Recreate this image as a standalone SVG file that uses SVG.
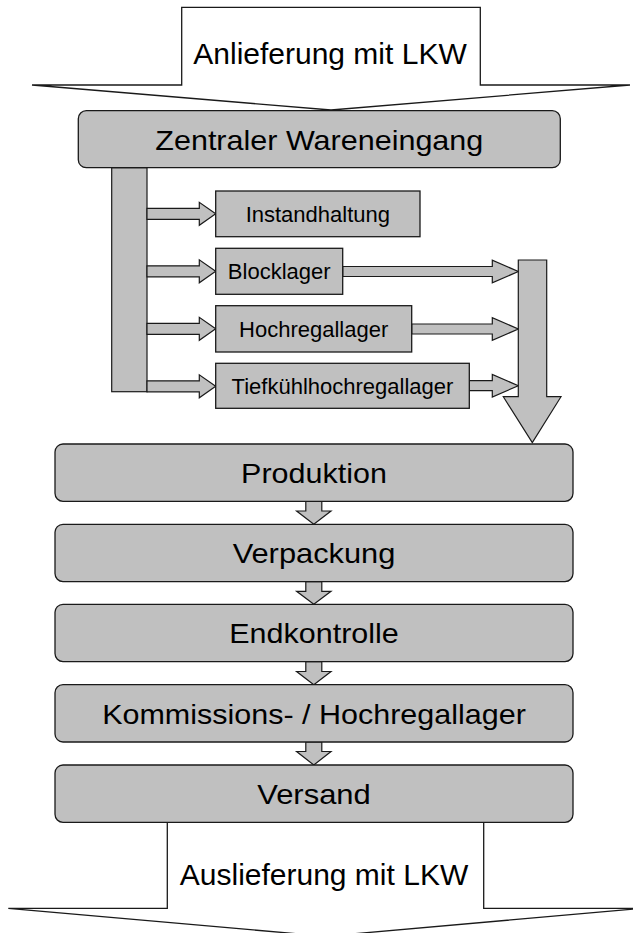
<svg xmlns="http://www.w3.org/2000/svg" width="633" height="933" viewBox="0 0 633 933">
<style>
.blk{fill:#ffffff;stroke:#1a1a1a;stroke-width:1.3;stroke-linejoin:miter}
.box{fill:#c0c0c0;stroke:#1a1a1a;stroke-width:1.3}
.arr{fill:#c0c0c0;stroke:#1a1a1a;stroke-width:1.2;stroke-linejoin:miter}
text{font-family:"Liberation Sans",Arial,sans-serif;fill:#000;text-anchor:middle}
.big{font-size:28px}
.lkw{font-size:30px}
.sm{font-size:22px}
</style>
<rect width="633" height="933" fill="#ffffff"/>
<g id="anlieferung">
<polygon class="blk" points="181.7,7.3 480.3,7.3 480.3,85 630,85 331,110 32,85 181.7,85"/>
<text class="lkw" x="330" y="64.3">Anlieferung mit LKW</text>
</g>
<g id="auslieferung">
<polygon class="blk" points="167.3,822.3 483.7,822.3 483.7,908.3 642.7,908.3 325.5,936.3 8.3,908.3 167.3,908.3"/>
<text class="lkw" x="324" y="885">Auslieferung mit LKW</text>
</g>
<g id="connectors">
<rect class="arr" x="111.7" y="167.7" width="35.3" height="224"/>
<polygon class="arr" points="147,208.3 199.3,208.3 199.3,202.3 215.7,213.8 199.3,225.3 199.3,219.3 147,219.3"/>
<polygon class="arr" points="147,265.8 199.3,265.8 199.3,259.8 215.7,271.3 199.3,282.8 199.3,276.8 147,276.8"/>
<polygon class="arr" points="147,323.3 199.3,323.3 199.3,317.3 215.7,328.8 199.3,340.3 199.3,334.3 147,334.3"/>
<polygon class="arr" points="147,380.8 199.3,380.8 199.3,374.8 215.7,386.3 199.3,397.8 199.3,391.8 147,391.8"/>
<polygon class="arr" points="342.7,266.5 492.3,266.5 492.3,260.2 518.3,271.5 492.3,282.8 492.3,276.5 342.7,276.5"/>
<polygon class="arr" points="411.7,324 492.3,324 492.3,317.7 518.3,329 492.3,340.3 492.3,334 411.7,334"/>
<polygon class="arr" points="469.3,380.7 492.3,380.7 492.3,374.4 518.3,385.7 492.3,397 492.3,390.7 469.3,390.7"/>
<polygon class="arr" points="518.3,260 546.7,260 546.7,396.7 561,396.7 532.3,442.5 503.3,396.7 518.3,396.7"/>
<polygon class="arr" points="305.8,501.3 321.8,501.3 321.8,511 331,511 313.8,524.3 296.6,511 305.8,511"/>
<polygon class="arr" points="305.8,581.6 321.8,581.6 321.8,591.3 331,591.3 313.8,604.3 296.6,591.3 305.8,591.3"/>
<polygon class="arr" points="305.8,661.6 321.8,661.6 321.8,671.5 331,671.5 313.8,684.7 296.6,671.5 305.8,671.5"/>
<polygon class="arr" points="305.8,742 321.8,742 321.8,751.5 331,751.5 313.8,765 296.6,751.5 305.8,751.5"/>
</g>
<g id="wareneingang">
<rect class="box" x="78.3" y="110.7" width="482" height="57" rx="8"/>
<text class="big" x="319.3" y="150" textLength="328" lengthAdjust="spacingAndGlyphs">Zentraler Wareneingang</text>
</g>
<g id="instandhaltung">
<rect class="box" x="215.7" y="191" width="204.3" height="45.7"/>
<text class="sm" x="317.8" y="221.7">Instandhaltung</text>
</g>
<g id="blocklager">
<rect class="box" x="215.7" y="248.3" width="127" height="46"/>
<text class="sm" x="279.2" y="279.2">Blocklager</text>
</g>
<g id="hochregallager">
<rect class="box" x="215.7" y="305.7" width="196" height="46.3"/>
<text class="sm" x="313.7" y="336.7">Hochregallager</text>
</g>
<g id="tiefkuehl">
<rect class="box" x="215.7" y="363.3" width="253.6" height="45"/>
<text class="sm" x="342.5" y="394.2">Tiefkühlhochregallager</text>
</g>
<g id="produktion">
<rect class="box" x="55" y="444" width="518" height="57.3" rx="8"/>
<text class="big" x="314" y="482.6" textLength="145.8" lengthAdjust="spacingAndGlyphs">Produktion</text>
</g>
<g id="verpackung">
<rect class="box" x="55" y="524.3" width="518" height="57.3" rx="8"/>
<text class="big" x="314" y="563.3" textLength="162.7" lengthAdjust="spacingAndGlyphs">Verpackung</text>
</g>
<g id="endkontrolle">
<rect class="box" x="55" y="604.3" width="518" height="57.3" rx="8"/>
<text class="big" x="314" y="643.4" textLength="169.5" lengthAdjust="spacingAndGlyphs">Endkontrolle</text>
</g>
<g id="kommission">
<rect class="box" x="55" y="684.7" width="518" height="57.3" rx="8"/>
<text class="big" x="314" y="723.7" textLength="423.7" lengthAdjust="spacingAndGlyphs">Kommissions- / Hochregallager</text>
</g>
<g id="versand">
<rect class="box" x="55" y="765" width="518" height="57.3" rx="8"/>
<text class="big" x="314" y="804" textLength="113.6" lengthAdjust="spacingAndGlyphs">Versand</text>
</g>
</svg>
